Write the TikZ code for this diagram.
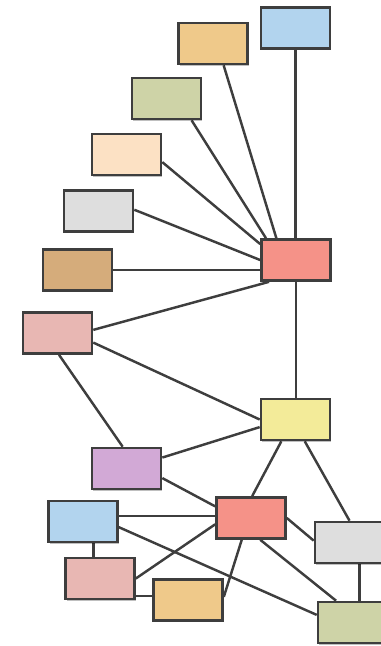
\documentclass[tikz,border=0pt]{standalone}
\usetikzlibrary{backgrounds,shadows}

\definecolor{cblue}{RGB}{178,212,238}
\definecolor{corange}{RGB}{239,201,138}
\definecolor{cgreen}{RGB}{206,211,167}
\definecolor{cpeach}{RGB}{252,225,196}
\definecolor{cgray}{RGB}{222,222,222}
\definecolor{ctan}{RGB}{213,172,123}
\definecolor{cred}{RGB}{245,146,136}
\definecolor{cpink}{RGB}{232,183,179}
\definecolor{cyellow}{RGB}{243,235,153}
\definecolor{cpurple}{RGB}{210,169,214}
\definecolor{cline}{RGB}{62,62,62}

\tikzset{
  box/.style={draw=cline, line width=1.5pt, fill=#1, rectangle,
    minimum width=1.38cm, minimum height=0.82cm, inner sep=0pt,
    drop shadow={shadow xshift=0.7pt, shadow yshift=-0.9pt, opacity=0.25, fill=black}},
  link/.style={draw=cline, line width=1.4pt}
}

\begin{document}
\begin{tikzpicture}[x=0.02cm, y=-0.02cm]
  \path[use as bounding box] (0,0) rectangle (381,646);
  \clip (0,0) rectangle (381,646);

  % upper fan of boxes around the first hub
  \node[box=cblue]   (B1)  at (295.5,28)   {};
  \node[box=corange] (O1)  at (213,43.5)   {};
  \node[box=cgreen]  (G1)  at (166.5,98.5) {};
  \node[box=cpeach]  (P1)  at (126.5,154.5){};
  \node[box=cgray]   (Gr1) at (98.5,211)   {};
  \node[box=ctan]    (T1)  at (77.5,270)   {};
  \node[box=cred]    (R1)  at (296,260)    {};
  \node[box=cpink]   (Pk1) at (57.5,333)   {};

  % lower cluster
  \node[box=cyellow] (Y)   at (295.5,419.5){};
  \node[box=cpurple] (Pu)  at (126.5,468.5){};
  \node[box=cred]    (R2)  at (251,518)    {};
  \node[box=cblue]   (B2)  at (83,521.5)   {};
  \node[box=cgray]   (Gr2) at (349.5,542.5){};
  \node[box=cpink]   (Pk2) at (100,578.5)  {};
  \node[box=corange] (O2)  at (188,600)    {};
  \node[box=cgreen]  (G2)  at (352.5,622.5){};

  \begin{pgfonlayer}{background}
    % spokes into the first hub
    \draw[link] (B1.south) -- (B1.south |- R1.north);
    \draw[link] (O1.-64)   -- (R1.132);
    \draw[link] (G1.-41)   -- (R1.144);
    \draw[link] (P1.-12)   -- (R1.156);
    \draw[link] (Gr1.2)    -- (R1.180);
    \draw[link] (T1.east)  -- (T1.east -| R1.west);
    \draw[link] (Pk1.5)    -- (R1.219);
    \draw[link] (R1.south) -- (R1.south |- Y.north);

    % middle links
    \draw[link] (Pk1.-15)  -- (Y.west);
    \draw[link] (Pk1.-86)  -- (Pu.100);
    \draw[link] (Pu.17)    -- (Y.192);
    \draw[link] (Pu.-15)   -- (R2.162);
    \draw[link] (Y.237)    -- (R2.87);
    \draw[link] (Y.-67.5)  -- (Gr2.north);

    % bottom cluster
    \draw[link] (B2.9)     -- (B2.9 -| R2.west);
    \draw[link] (B2.-64)   -- (B2.-64 |- Pk2.north);
    \draw[link] (B2.-9)    -- (G2.168);
    \draw[link] (Pk2.east) -- (R2.190);
    \draw[link] (Pk2.-26)  -- (Pk2.-26 -| O2.west);
    \draw[link] (O2.5)     -- (R2.247);
    \draw[link] (R2.east)  -- (Gr2.177.5);
    \draw[link] (R2.-67)   -- (G2.127);
    \draw[link] (Gr2.-65)  -- (Gr2.-65 |- G2.north);
  \end{pgfonlayer}
\end{tikzpicture}
\end{document}
